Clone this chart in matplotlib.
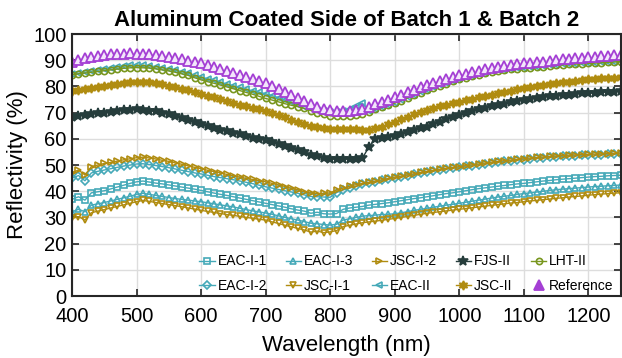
import matplotlib
matplotlib.use("Agg")
import matplotlib.pyplot as plt
import numpy as np

plt.rcParams['font.family'] = ['Liberation Sans', 'DejaVu Sans']

# wavelength grid, 10 nm steps
wl = np.arange(400, 1251, 10)

eac_i_1 = [36.9, 37.9, 36.6, 39.4, 39.8, 40.2, 40.9, 41.6, 42.3, 43.0,
           43.6, 43.9, 43.5, 43.1, 42.8, 42.4, 42.0, 41.6, 41.2, 40.8,
           40.3, 39.8, 39.3, 38.8, 38.4, 37.9, 37.4, 36.9, 36.4, 35.9,
           35.4, 34.9, 34.4, 33.9, 33.3, 32.8, 32.4, 31.6, 32.0, 31.4,
           31.3, 31.5, 33.1, 33.6, 33.9, 34.2, 34.7, 35.0, 35.3, 35.6,
           36.0, 36.4, 36.8, 37.2, 37.5, 37.9, 38.3, 38.7, 39.1, 39.4,
           39.8, 40.2, 40.6, 41.0, 41.3, 41.6, 41.9, 42.2, 42.5, 42.8,
           43.0, 43.3, 43.6, 43.9, 44.1, 44.4, 44.6, 44.8, 45.0, 45.2,
           45.4, 45.6, 45.7, 45.9, 46.0, 46.1]
eac_i_2 = [45.0, 46.0, 44.0, 47.0, 47.6, 48.1, 48.6, 49.1, 49.6, 50.0,
           50.4, 50.5, 50.2, 49.8, 49.4, 49.0, 48.5, 48.0, 47.5, 47.0,
           46.6, 46.1, 45.6, 45.2, 44.8, 44.4, 43.9, 43.4, 42.9, 42.3,
           41.7, 41.2, 40.7, 40.2, 39.7, 39.2, 38.6, 38.0, 37.9, 37.8,
           37.7, 39.5, 40.5, 41.2, 41.9, 42.6, 43.1, 43.6, 44.1, 44.6,
           45.1, 45.5, 46.0, 46.4, 46.9, 47.3, 47.7, 48.1, 48.5, 48.8,
           49.1, 49.5, 49.8, 50.1, 50.5, 50.8, 51.1, 51.4, 51.6, 51.9,
           52.1, 52.4, 52.6, 52.8, 53.0, 53.2, 53.3, 53.5, 53.6, 53.7,
           53.8, 53.9, 54.0, 54.1, 54.2, 54.3]
eac_i_3 = [32.2, 33.1, 32.2, 34.7, 35.2, 35.7, 36.3, 36.9, 37.5, 38.1,
           38.8, 39.2, 38.8, 38.4, 38.0, 37.6, 37.2, 36.9, 36.6, 36.3,
           36.0, 35.6, 35.2, 34.8, 34.4, 34.0, 33.5, 33.0, 32.5, 32.1,
           31.7, 31.2, 30.6, 30.0, 29.5, 29.0, 28.4, 27.8, 27.6, 27.3,
           27.1, 27.4, 29.0, 29.5, 30.0, 30.5, 30.7, 30.9, 31.1, 31.2,
           31.4, 31.8, 32.2, 32.7, 33.1, 33.5, 33.9, 34.3, 34.7, 35.0,
           35.4, 35.8, 36.2, 36.6, 37.0, 37.4, 37.8, 38.1, 38.4, 38.8,
           39.1, 39.4, 39.7, 40.0, 40.3, 40.6, 40.8, 41.0, 41.2, 41.4,
           41.6, 41.8, 41.9, 42.1, 42.2, 42.4]
jsc_i_1 = [29.6, 30.3, 29.0, 31.8, 32.4, 33.0, 33.6, 34.2, 34.8, 35.4,
           36.0, 36.5, 36.1, 35.7, 35.3, 34.9, 34.5, 34.1, 33.6, 33.2,
           32.7, 32.3, 31.9, 31.5, 31.1, 30.8, 30.4, 30.0, 29.7, 29.3,
           29.0, 28.3, 27.7, 27.0, 26.4, 25.8, 25.2, 24.4, 24.8, 24.2,
           24.5, 25.0, 26.5, 27.0, 27.5, 28.0, 28.3, 28.6, 28.9, 29.3,
           29.6, 30.0, 30.4, 30.8, 31.2, 31.6, 31.9, 32.2, 32.5, 32.8,
           33.1, 33.4, 33.7, 34.0, 34.3, 34.6, 34.9, 35.2, 35.5, 35.7,
           36.0, 36.3, 36.5, 36.8, 37.0, 37.3, 37.5, 37.8, 38.0, 38.2,
           38.5, 38.7, 38.9, 39.1, 39.3, 39.4]
jsc_i_2 = [47.1, 48.1, 46.2, 49.4, 50.0, 50.6, 51.0, 51.5, 52.0, 52.4,
           52.8, 53.0, 52.7, 52.3, 51.8, 51.4, 50.8, 50.3, 49.7, 49.1,
           48.6, 48.0, 47.5, 47.0, 46.4, 45.9, 45.4, 44.9, 44.5, 44.0,
           43.6, 43.0, 42.4, 41.8, 41.1, 40.5, 39.8, 39.3, 39.1, 39.2,
           39.4, 40.5, 41.2, 41.9, 42.5, 43.0, 43.4, 43.9, 44.4, 44.9,
           45.4, 45.8, 46.3, 46.7, 47.2, 47.6, 48.0, 48.4, 48.8, 49.1,
           49.4, 49.8, 50.1, 50.4, 50.8, 51.1, 51.4, 51.7, 51.9, 52.2,
           52.4, 52.7, 52.9, 53.1, 53.3, 53.5, 53.6, 53.8, 53.9, 54.0,
           54.1, 54.2, 54.3, 54.4, 54.5, 54.6]
eac_ii = [84.6, 85.0, 85.4, 85.8, 86.2, 86.6, 87.0, 87.4, 87.7, 88.0,
          88.1, 88.0, 87.8, 87.5, 87.1, 86.7, 86.2, 85.6, 85.0, 84.3,
          83.6, 82.9, 82.3, 81.6, 80.9, 80.2, 79.6, 78.9, 78.3, 77.8,
          77.2, 76.5, 75.7, 74.8, 73.9, 73.0, 72.3, 71.7, 71.1, 70.6,
          70.3, 70.4, 70.8, 71.5, 72.5, 73.6, 70.7, 71.4, 72.2, 73.0,
          73.8, 74.8, 75.8, 76.8, 77.8, 78.8, 79.7, 80.5, 81.3, 82.1,
          82.9, 83.5, 84.1, 84.7, 85.2, 85.7, 86.1, 86.4, 86.7, 86.9,
          87.1, 87.4, 87.6, 87.8, 88.0, 88.2, 88.4, 88.6, 88.7, 88.9,
          89.0, 89.1, 89.2, 89.4, 89.5, 89.6]
fjs_ii = [68.4, 68.8, 69.1, 69.4, 69.7, 70.0, 70.3, 70.6, 70.9, 71.1,
          71.2, 71.0, 70.8, 70.5, 70.0, 69.3, 68.6, 67.9, 67.2, 66.4,
          65.6, 64.9, 64.2, 63.5, 62.9, 62.3, 61.7, 61.1, 60.5, 60.0,
          59.5, 58.7, 58.0, 57.2, 56.4, 55.7, 54.8, 54.0, 53.3, 52.8,
          52.4, 52.3, 52.3, 52.4, 52.4, 52.6, 57.0, 60.0, 60.3, 60.6,
          61.2, 61.9, 62.7, 63.4, 64.0, 64.7, 65.6, 66.5, 67.4, 68.3,
          69.1, 69.8, 70.5, 71.2, 71.8, 72.4, 72.9, 73.4, 73.9, 74.4,
          74.8, 75.2, 75.6, 75.9, 76.2, 76.5, 76.7, 76.9, 77.1, 77.3,
          77.5, 77.6, 77.8, 77.9, 78.0, 78.1]
jsc_ii = [78.4, 78.7, 79.0, 79.3, 79.7, 80.1, 80.5, 80.9, 81.2, 81.5,
          81.6, 81.6, 81.5, 81.2, 80.8, 80.3, 79.8, 79.2, 78.6, 77.9,
          77.2, 76.5, 75.8, 75.1, 74.4, 73.7, 73.1, 72.4, 71.8, 71.2,
          70.6, 69.8, 69.0, 68.2, 67.3, 66.5, 65.7, 65.0, 64.4, 64.0,
          63.7, 63.6, 63.6, 63.7, 63.7, 63.5, 63.3, 64.0, 64.7, 65.5,
          66.6, 67.5, 68.4, 69.3, 70.2, 71.0, 71.7, 72.4, 73.0, 73.6,
          74.2, 74.8, 75.3, 75.9, 76.4, 76.9, 77.4, 77.9, 78.4, 78.9,
          79.3, 79.7, 80.1, 80.5, 80.8, 81.2, 81.5, 81.8, 82.1, 82.4,
          82.7, 82.9, 83.1, 83.3, 83.4, 83.5]
lht_ii = [84.4, 84.8, 85.1, 85.4, 85.7, 86.0, 86.3, 86.6, 86.9, 87.1,
          87.2, 87.1, 87.0, 86.7, 86.3, 85.9, 85.4, 84.8, 84.2, 83.3,
          82.5, 81.8, 81.2, 80.5, 79.8, 79.1, 78.4, 77.7, 77.0, 76.2,
          75.4, 74.8, 74.1, 73.4, 72.8, 72.3, 71.6, 70.8, 70.0, 69.3,
          68.8, 68.6, 68.6, 68.8, 69.1, 69.6, 70.4, 71.2, 72.0, 72.8,
          73.6, 74.6, 75.6, 76.6, 77.6, 78.6, 79.5, 80.3, 81.1, 81.9,
          82.7, 83.3, 83.9, 84.5, 85.0, 85.5, 85.9, 86.2, 86.5, 86.7,
          86.9, 87.2, 87.4, 87.6, 87.8, 88.0, 88.2, 88.4, 88.5, 88.7,
          88.8, 88.9, 89.0, 89.2, 89.3, 89.4]
reference = [89.4, 90.2, 90.8, 91.3, 91.7, 92.0, 92.2, 92.4, 92.5, 92.6,
             92.5, 92.4, 92.2, 92.0, 91.6, 91.3, 90.8, 90.3, 89.8, 89.3,
             88.8, 88.1, 87.4, 86.7, 85.8, 85.0, 84.3, 83.5, 82.8, 82.0,
             81.2, 80.1, 79.0, 77.8, 76.6, 75.5, 74.3, 73.2, 72.2, 71.5,
             71.0, 70.8, 70.6, 70.7, 71.0, 71.5, 72.3, 73.2, 74.1, 75.0,
             76.0, 76.9, 77.8, 78.7, 79.6, 80.5, 81.3, 82.1, 82.9, 83.6,
             84.3, 84.9, 85.5, 86.0, 86.5, 87.0, 87.4, 87.8, 88.2, 88.5,
             88.8, 89.1, 89.3, 89.5, 89.8, 90.0, 90.3, 90.5, 90.8, 91.0,
             91.3, 91.4, 91.6, 91.7, 91.9, 92.0]

teal = '#45a9b8'
gold = '#b08c10'
slate = '#263d3c'
olive = '#78961e'
purple = '#a43fd4'

hexstar = (6, 1, 0)
series = [
    ('EAC-I-1', eac_i_1, teal, 's', 'none', 4.5),
    ('EAC-I-2', eac_i_2, teal, 'D', 'none', 4.0),
    ('EAC-I-3', eac_i_3, teal, '^', 'none', 5.0),
    ('JSC-I-1', jsc_i_1, gold, 'v', 'none', 5.0),
    ('JSC-I-2', jsc_i_2, gold, '>', 'none', 5.0),
    ('EAC-II', eac_ii, teal, '<', 'none', 5.0),
    ('FJS-II', fjs_ii, slate, '*', slate, 7.0),
    ('JSC-II', jsc_ii, gold, hexstar, gold, 6.5),
    ('LHT-II', lht_ii, olive, 'o', 'none', 4.5),
]

fig = plt.figure(figsize=(6.22, 3.58), dpi=100)
ax = fig.add_axes([0.1158, 0.173, 0.882, 0.732])

for name, vals, col, mk, fc, ms in series:
    ax.plot(wl, vals, color=col, lw=1.0, marker=mk, ms=ms, mfc=fc,
            mec=col, mew=1.2, label=name)
ax.plot(wl, reference, ls='none', marker='^', ms=7, mfc='#f3e6fb',
        mec=purple, mew=1.3, label='Reference')

ax.set_xlim(400, 1250)
ax.set_ylim(0, 100)
ax.set_xticks(np.arange(400, 1201, 100))
ax.set_yticks(np.arange(0, 101, 10))
ax.grid(True, color='#dddddd', lw=1.0)
ax.set_axisbelow(True)
ax.tick_params(direction='in', top=True, right=True, labelsize=14.5,
               length=5, width=1.2, color='#262626')
ax.tick_params(axis='x', pad=8)
ax.tick_params(axis='y', pad=4)
for sp in ax.spines.values():
    sp.set_color('#262626')
    sp.set_linewidth(1.5)

ax.set_title('Aluminum Coated Side of Batch 1 & Batch 2', fontsize=16,
             fontweight='bold', pad=6)
ax.set_xlabel('Wavelength (nm)', fontsize=16, labelpad=6)
ax.set_ylabel('Reflectivity (%)', fontsize=16, labelpad=4)

leg = ax.legend(ncol=5, loc='lower right', bbox_to_anchor=(1.005, -0.025),
                frameon=False, fontsize=10, handlelength=1.1,
                handletextpad=0.2, columnspacing=1.35, labelspacing=0.75,
                borderaxespad=0.3)
leg.legend_handles[-1].set_markerfacecolor(purple)

fig.savefig('out.png', dpi=100)
